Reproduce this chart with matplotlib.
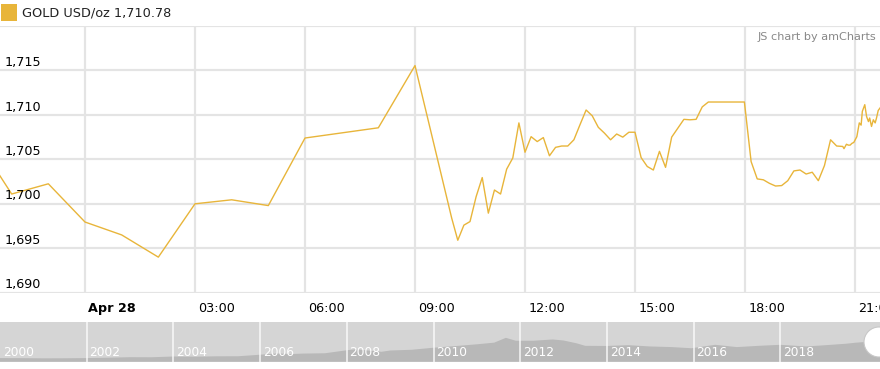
import matplotlib
matplotlib.use('Agg')
import matplotlib.pyplot as plt
import matplotlib.dates as mdates
from matplotlib.patches import Rectangle, Ellipse
import pandas as pd

# ── intraday gold price (USD/oz) ─────────────────────────────
times = ["2020-04-27 21:30", "2020-04-27 22:00", "2020-04-27 23:00",
         "2020-04-28 00:00", "2020-04-28 01:00", "2020-04-28 02:00",
         "2020-04-28 03:00", "2020-04-28 04:00", "2020-04-28 05:00",
         "2020-04-28 06:00", "2020-04-28 08:00", "2020-04-28 09:00",
         "2020-04-28 10:00", "2020-04-28 10:10", "2020-04-28 10:20",
         "2020-04-28 10:30", "2020-04-28 10:40", "2020-04-28 10:50",
         "2020-04-28 11:00", "2020-04-28 11:10", "2020-04-28 11:20",
         "2020-04-28 11:30", "2020-04-28 11:40", "2020-04-28 11:50",
         "2020-04-28 12:00", "2020-04-28 12:10", "2020-04-28 12:20",
         "2020-04-28 12:30", "2020-04-28 12:40", "2020-04-28 12:50",
         "2020-04-28 13:00", "2020-04-28 13:10", "2020-04-28 13:20",
         "2020-04-28 13:30", "2020-04-28 13:40", "2020-04-28 13:50",
         "2020-04-28 14:00", "2020-04-28 14:10", "2020-04-28 14:20",
         "2020-04-28 14:30", "2020-04-28 14:40", "2020-04-28 14:50",
         "2020-04-28 15:00", "2020-04-28 15:10", "2020-04-28 15:20",
         "2020-04-28 15:30", "2020-04-28 15:40", "2020-04-28 15:50",
         "2020-04-28 16:00", "2020-04-28 16:10", "2020-04-28 16:20",
         "2020-04-28 16:30", "2020-04-28 16:40", "2020-04-28 16:50",
         "2020-04-28 17:00", "2020-04-28 17:59", "2020-04-28 18:10",
         "2020-04-28 18:20", "2020-04-28 18:30", "2020-04-28 18:40",
         "2020-04-28 18:50", "2020-04-28 19:00", "2020-04-28 19:10",
         "2020-04-28 19:20", "2020-04-28 19:30", "2020-04-28 19:40",
         "2020-04-28 19:50", "2020-04-28 20:00", "2020-04-28 20:10",
         "2020-04-28 20:20", "2020-04-28 20:30", "2020-04-28 20:40",
         "2020-04-28 20:42", "2020-04-28 20:46", "2020-04-28 20:49",
         "2020-04-28 20:52", "2020-04-28 20:55", "2020-04-28 20:58",
         "2020-04-28 21:03", "2020-04-28 21:07", "2020-04-28 21:10",
         "2020-04-28 21:12", "2020-04-28 21:16", "2020-04-28 21:19",
         "2020-04-28 21:22", "2020-04-28 21:24", "2020-04-28 21:27",
         "2020-04-28 21:30", "2020-04-28 21:33", "2020-04-28 21:35",
         "2020-04-28 21:38", "2020-04-28 21:41"]
prices = [1704.3, 1701.1, 1702.25,
          1697.95, 1696.5, 1694.0,
          1700.0, 1700.45, 1699.8,
          1707.4, 1708.55, 1715.55,
          1698.4, 1695.9, 1697.6,
          1698.0, 1700.8, 1702.95,
          1698.95, 1701.55, 1701.1,
          1703.9, 1705.15, 1709.1,
          1705.8, 1707.55, 1707.0,
          1707.45, 1705.4, 1706.35,
          1706.5, 1706.5, 1707.2,
          1708.9, 1710.55, 1709.9,
          1708.6, 1707.95, 1707.2,
          1707.85, 1707.5, 1708.05,
          1708.05, 1705.2, 1704.2,
          1703.8, 1705.9, 1704.1,
          1707.5, 1708.5, 1709.5,
          1709.45, 1709.5, 1710.9,
          1711.45, 1711.45, 1704.75,
          1702.8, 1702.7, 1702.3,
          1702.0, 1702.05, 1702.6,
          1703.7, 1703.8, 1703.35,
          1703.55, 1702.6, 1704.3,
          1707.2, 1706.5, 1706.45,
          1706.2, 1706.7, 1706.6,
          1706.6, 1706.8, 1706.9,
          1707.55, 1709.1, 1708.85,
          1710.4, 1711.15, 1709.8,
          1709.25, 1709.65, 1708.7,
          1709.45, 1709.1, 1709.6,
          1710.5, 1710.78]

# ── long-term history for the scrollbar (decimal year, USD/oz) ─
hist_years = [2000.0, 2000.5, 2001.0, 2001.5, 2002.0, 2002.5, 2003.0, 2003.5,
              2004.0, 2004.5, 2005.0, 2005.5, 2006.0, 2006.4, 2006.7, 2007.0,
              2007.5, 2008.0, 2008.2, 2008.8, 2009.0, 2009.5, 2010.0, 2010.5,
              2011.0, 2011.4, 2011.67, 2011.9, 2012.3, 2012.75, 2013.0, 2013.3,
              2013.5, 2014.0, 2014.5, 2015.0, 2015.5, 2015.95, 2016.5, 2017.0,
              2017.5, 2018.0, 2018.6, 2019.0, 2019.5, 2019.75, 2020.0, 2020.3]
hist_prices = [285, 280, 265, 270, 285, 315, 355, 350,
               410, 395, 425, 430, 550, 650, 600, 640,
               665, 900, 980, 780, 880, 940, 1100, 1230,
               1370, 1500, 1880, 1650, 1650, 1750, 1670, 1450,
               1250, 1240, 1300, 1200, 1150, 1060, 1330, 1150,
               1250, 1330, 1200, 1290, 1410, 1500, 1560, 1710]

tick_times = ["2020-04-28 00:00", "2020-04-28 03:00", "2020-04-28 06:00",
              "2020-04-28 09:00", "2020-04-28 12:00", "2020-04-28 15:00",
              "2020-04-28 18:00", "2020-04-28 21:00"]
tick_labels = ["Apr 28", "03:00", "06:00", "09:00", "12:00", "15:00", "18:00", "21:00"]
y_ticks = [1690, 1695, 1700, 1705, 1710, 1715]
year_ticks = [2000, 2002, 2004, 2006, 2008, 2010, 2012, 2014, 2016, 2018]

GOLD = "#e8b53a"
GRID = "#e4e4e4"
W, H = 880, 369

t = pd.to_datetime(times)
ticks = pd.to_datetime(tick_times)
x_start = pd.Timestamp("2020-04-27 21:40:54")
x_end = x_start + pd.Timedelta(hours=24)

fig = plt.figure(figsize=(W / 100, H / 100), dpi=100)
plt.rcParams['font.family'] = ['DejaVu Sans']

# ── main plot ────────────────────────────────────────────────
top, bottom = 26, 292.7
ax = fig.add_axes([0, 1 - bottom / H, 1, (bottom - top) / H])
ax.plot(t, prices, color=GOLD, linewidth=1.0, zorder=3)
ax.set_xlim(x_start, x_end)
ax.set_ylim(1690, 1720)
for s in ax.spines.values():
    s.set_visible(False)
ax.set_xticks([]); ax.set_yticks([])
for v in y_ticks + [1720]:
    ax.axhline(v, color=GRID, linewidth=1.6, zorder=1)
for tt, lab in zip(ticks, tick_labels):
    ax.axvline(tt, color=GRID, linewidth=1.6, zorder=1)
    ax.annotate(lab, xy=(mdates.date2num(tt), 0), xycoords=("data", "axes fraction"),
                xytext=(2.5, -11.5), textcoords="offset points", ha="left", va="center",
                fontsize=9.2, color="#000000",
                fontweight="bold" if lab == "Apr 28" else "normal", annotation_clip=False)
for v in y_ticks:
    ax.annotate(f"{v:,}", xy=(0, v), xycoords=("axes fraction", "data"),
                xytext=(3.5, 1), textcoords="offset points", ha="left", va="bottom",
                fontsize=9.2, color="#000000")

# legend + credits
fig.patches.append(Rectangle((1 / W, 1 - 21 / H), 16 / W, 17 / H, transform=fig.transFigure,
                             facecolor=GOLD, edgecolor="none"))
fig.text(22 / W, 1 - 13.5 / H, "GOLD USD/oz 1,710.78", fontsize=9.3, color="#222222",
         ha="left", va="center")
fig.text(876 / W, 1 - 37 / H, "JS chart by amCharts", fontsize=8.1, color="#888888",
         ha="right", va="center")

# ── scrollbar ────────────────────────────────────────────────
s_top, s_bottom = 321.7, 361.7
ax2 = fig.add_axes([0, 1 - s_bottom / H, 1, (s_bottom - s_top) / H])
ax2.set_facecolor("#d5d5d5")
ax2.fill_between(hist_years, 0, hist_prices, color="#b8b8b8", linewidth=0)
ax2.set_xlim(2000, 2000 + W / 43.35)
ax2.set_ylim(0, 3150)
for s in ax2.spines.values():
    s.set_visible(False)
ax2.set_xticks([]); ax2.set_yticks([])
for yr in year_ticks:
    if yr > 2000:
        ax2.axvline(yr, color="white", linewidth=1.2, alpha=0.8)
    ax2.annotate(str(yr), xy=(yr, 0), xycoords=("data", "axes fraction"),
                 xytext=(2, 2), textcoords="offset points", ha="left", va="bottom",
                 fontsize=8.8, color="white")

fig.patches.append(Ellipse((879 / W, 1 - 342 / H), 30 / W, 30 / H, transform=fig.transFigure,
                           facecolor="white", edgecolor="#c8c8c8", linewidth=0.8))

plt.savefig("out.png", dpi=100)
plt.close()
